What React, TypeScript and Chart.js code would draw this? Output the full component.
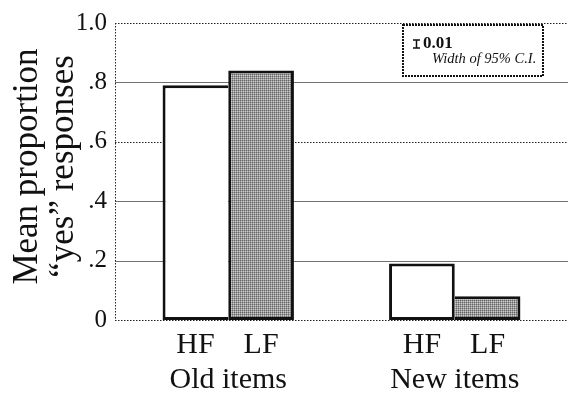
import React, { useEffect, useRef } from 'react';
import { Chart, registerables } from 'chart.js';

Chart.register(...registerables);

// Item groups and word-frequency conditions
const groups = ['Old items', 'New items'];
const conditions = ['HF', 'LF'];

// Mean proportion of "yes" responses
const hfValues = [0.79, 0.19];
const lfValues = [0.84, 0.08];

// Value axis
const yTickValues = [0, 0.2, 0.4, 0.6, 0.8, 1.0];
const yTickLabels = ['0', '.2', '.4', '.6', '.8', '1.0'];
const dottedGridValues = [0, 0.6, 1.0];
const yTitle = ['Mean proportion', '\u201Cyes\u201D responses'];

// Confidence-interval key
const ciLabel = '0.01';
const ciNote = 'Width of 95% C.I.';

const SERIF = '"Liberation Serif", "Times New Roman", serif';
const BORDER = 3;

function makeScreen(): CanvasPattern | string {
  const c = document.createElement('canvas');
  c.width = 2;
  c.height = 2;
  const g = c.getContext('2d');
  if (!g) return '#999999';
  g.fillStyle = '#666666';
  g.fillRect(0, 0, 1, 1);
  g.fillStyle = '#9a9a9a';
  g.fillRect(1, 0, 1, 1);
  g.fillRect(0, 1, 1, 1);
  g.fillStyle = '#cccccc';
  g.fillRect(1, 1, 1, 1);
  const p = g.createPattern(c, 'repeat');
  return p || '#999999';
}

const decorPlugin = {
  id: 'decor',
  beforeDatasetsDraw(chart: any) {
    const { ctx, chartArea: a, scales } = chart;
    const y = scales.y;
    ctx.save();
    ctx.lineWidth = 1;
    yTickValues.forEach((v) => {
      const py = Math.round(y.getPixelForValue(v)) + 0.5;
      if (dottedGridValues.includes(v)) {
        ctx.strokeStyle = '#222222';
        ctx.setLineDash([1.5, 1.5]);
      } else {
        ctx.strokeStyle = '#707070';
        ctx.setLineDash([]);
      }
      ctx.beginPath();
      ctx.moveTo(a.left, py);
      ctx.lineTo(a.right, py);
      ctx.stroke();
    });
    // value axis line
    ctx.strokeStyle = '#222222';
    ctx.setLineDash([1.5, 1.5]);
    const ax = Math.round(a.left) + 0.5;
    ctx.beginPath();
    ctx.moveTo(ax, a.top);
    ctx.lineTo(ax, a.bottom);
    ctx.stroke();
    ctx.restore();
  },
  afterDraw(chart: any) {
    const { ctx, chartArea: a, scales } = chart;
    const x = scales.x;
    ctx.save();
    ctx.fillStyle = '#111111';

    // condition labels under each bar
    ctx.font = `30px ${SERIF}`;
    ctx.textAlign = 'center';
    ctx.textBaseline = 'alphabetic';
    chart.data.datasets.forEach((ds: any, di: number) => {
      const meta = chart.getDatasetMeta(di);
      meta.data.forEach((bar: any) => {
        ctx.fillText(ds.label, bar.x, a.bottom + 33);
      });
    });
    // group labels
    chart.data.labels.forEach((lab: string, i: number) => {
      ctx.fillText(lab, x.getPixelForValue(i), a.bottom + 68);
    });

    // value axis title
    ctx.font = `35px ${SERIF}`;
    ctx.textBaseline = 'middle';
    const cy = (a.top + a.bottom) / 2 - 5;
    [28, 64].forEach((tx, i) => {
      ctx.save();
      ctx.translate(tx, cy);
      ctx.rotate(-Math.PI / 2);
      ctx.fillText(yTitle[i], 0, 0);
      ctx.restore();
    });

    // confidence-interval key
    const bx = a.right - 165;
    const by = a.top + 2;
    const bw = 140;
    const bh = 51;
    ctx.fillStyle = '#ffffff';
    ctx.fillRect(bx, by, bw, bh);
    ctx.strokeStyle = '#111111';
    ctx.lineWidth = 2;
    ctx.setLineDash([2, 1]);
    ctx.strokeRect(bx, by, bw, bh);
    ctx.setLineDash([]);

    // I-beam glyph
    ctx.lineWidth = 1.5;
    const ix = bx + 13.5;
    ctx.beginPath();
    ctx.moveTo(ix, by + 15);
    ctx.lineTo(ix, by + 23);
    ctx.moveTo(ix - 3.5, by + 15);
    ctx.lineTo(ix + 3.5, by + 15);
    ctx.moveTo(ix - 3.5, by + 23);
    ctx.lineTo(ix + 3.5, by + 23);
    ctx.stroke();

    ctx.fillStyle = '#111111';
    ctx.textAlign = 'left';
    ctx.textBaseline = 'alphabetic';
    ctx.font = `bold 17px ${SERIF}`;
    ctx.fillText(ciLabel, bx + 20, by + 23);
    ctx.font = `italic 14.5px ${SERIF}`;
    ctx.fillText(ciNote, bx + 29, by + 38);
    ctx.restore();
  },
};

export default function App() {
  const ref = useRef<HTMLCanvasElement | null>(null);

  useEffect(() => {
    const canvas = ref.current;
    if (!canvas) return;
    const screen = makeScreen();

    // the taller bar of each pair keeps the shared edge
    const hfBorder = (ctx: any) => {
      const i = ctx.dataIndex;
      return { top: BORDER, bottom: BORDER, left: BORDER, right: hfValues[i] < lfValues[i] ? 0 : BORDER };
    };
    const lfBorder = (ctx: any) => {
      const i = ctx.dataIndex;
      return { top: BORDER, bottom: BORDER, right: BORDER, left: lfValues[i] < hfValues[i] ? 0 : BORDER };
    };

    const chart = new Chart(canvas, {
      type: 'bar',
      data: {
        labels: groups,
        datasets: [
          {
            label: conditions[0],
            data: hfValues,
            backgroundColor: '#ffffff',
            borderColor: '#111111',
            borderWidth: hfBorder as any,
            borderSkipped: false,
          },
          {
            label: conditions[1],
            data: lfValues,
            backgroundColor: screen as any,
            borderColor: '#111111',
            borderWidth: lfBorder as any,
            borderSkipped: false,
          },
        ],
      },
      options: {
        responsive: false,
        animation: false,
        events: [],
        layout: { padding: { left: 0, right: 0, top: 20, bottom: 73 } },
        plugins: {
          legend: { display: false },
          tooltip: { enabled: false },
          title: { display: false },
        },
        datasets: {
          bar: { categoryPercentage: 0.58, barPercentage: 1.0 },
        },
        scales: {
          x: {
            display: false,
            offset: true,
          },
          y: {
            min: 0,
            max: 1,
            afterFit: (s: any) => {
              s.width = 115;
            },
            afterBuildTicks: (s: any) => {
              s.ticks = yTickValues.map((v) => ({ value: v }));
            },
            grid: { display: false, drawTicks: false },
            border: { display: false },
            ticks: {
              padding: 8,
              color: '#111111',
              font: { family: SERIF, size: 25 },
              callback: (_v: any, i: number) => yTickLabels[i],
            },
          },
        },
      },
      plugins: [decorPlugin],
    });
    return () => chart.destroy();
  }, []);

  return (
    <div style={{ position: 'absolute', left: 0, top: 0, width: 568, height: 393, background: '#ffffff' }}>
      <canvas ref={ref} width={568} height={393} style={{ display: 'block' }} />
    </div>
  );
}
